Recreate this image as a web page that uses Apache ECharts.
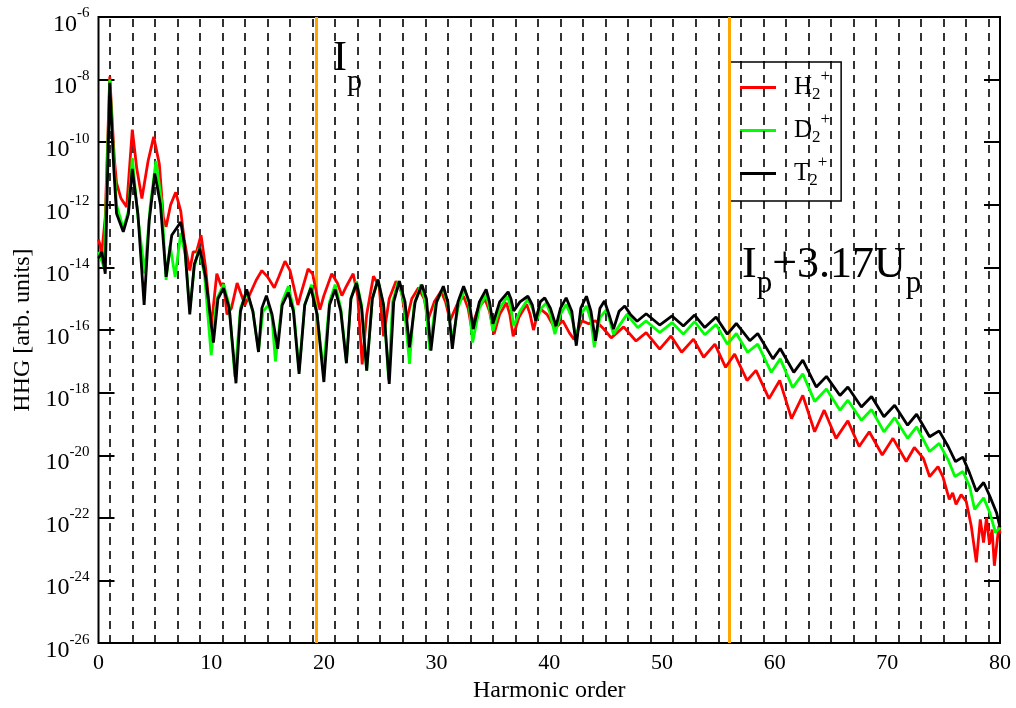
<!DOCTYPE html>
<html>
<head>
<meta charset="utf-8">
<script src="https://cdn.jsdelivr.net/npm/echarts@6/dist/echarts.min.js"></script>
<style>
html,body{margin:0;padding:0;background:#fff;}
#chart{width:1016px;height:708px;}
</style>
</head>
<body>
<div id="chart"></div>
<script>
// Harmonic spectra: [harmonic order, log10(HHG intensity)]
const H2 = [[0,-13.1],[0.3,-13.5],[0.6,-12.4],[1.0,-7.9],[1.4,-10.5],[1.6,-11.3],[2.0,-11.8],[2.5,-12.07],[3.0,-9.6],[3.4,-10.85],[3.85,-11.8],[4.4,-10.6],[4.9,-9.83],[5.4,-10.7],[5.75,-12.4],[6.0,-12.7],[6.4,-12.0],[6.85,-11.6],[7.3,-12.2],[7.6,-13.1],[8.1,-14.1],[8.4,-13.5],[8.7,-13.5],[9.1,-12.97],[9.5,-14.0],[10.0,-15.9],[10.5,-14.2],[10.9,-14.6],[11.1,-14.5],[11.4,-15.5],[11.8,-15.3],[12.3,-14.5],[12.7,-14.9],[13.0,-15.2],[13.5,-14.8],[14.0,-14.4],[14.5,-14.1],[15.0,-14.3],[15.6,-14.65],[16.0,-14.3],[16.55,-13.8],[17.0,-14.1],[17.7,-15.2],[18.0,-14.8],[18.6,-14.05],[19.0,-14.2],[19.65,-15.35],[20.0,-14.9],[20.7,-14.2],[21.2,-14.5],[21.6,-14.9],[22.0,-14.6],[22.6,-14.2],[23.0,-14.9],[23.4,-17.1],[23.8,-15.5],[24.4,-14.28],[24.9,-14.6],[25.3,-16.2],[25.8,-15.0],[26.4,-14.44],[26.9,-14.8],[27.3,-15.76],[27.8,-15.0],[28.4,-14.65],[28.9,-15.0],[29.25,-15.66],[29.8,-15.1],[30.4,-14.76],[30.8,-15.1],[31.2,-15.7],[31.8,-15.2],[32.4,-14.92],[32.8,-15.3],[33.1,-15.92],[33.7,-15.3],[34.3,-15.02],[34.7,-15.4],[35.1,-16.13],[35.6,-15.5],[36.2,-15.13],[36.5,-15.5],[36.8,-16.2],[37.3,-15.6],[38.0,-15.18],[38.3,-15.5],[38.6,-16.0],[39.1,-15.29],[39.8,-15.5],[40.5,-15.95],[41.2,-15.7],[41.8,-16.1],[42.2,-16.3],[42.9,-15.7],[43.5,-15.8],[44.1,-15.7],[44.8,-15.95],[45.5,-16.25],[46.6,-15.9],[47.7,-16.35],[48.6,-16.08],[49.8,-16.61],[50.8,-16.19],[51.75,-16.71],[52.8,-16.29],[53.7,-16.87],[54.7,-16.45],[55.65,-17.19],[56.45,-16.77],[57.55,-17.61],[58.35,-17.29],[59.5,-18.19],[60.45,-17.61],[61.5,-18.83],[62.5,-18.09],[63.55,-19.25],[64.4,-18.56],[65.45,-19.46],[66.5,-18.9],[67.5,-19.72],[68.4,-19.25],[69.55,-19.99],[70.5,-19.46],[71.68,-20.2],[72.4,-19.75],[73.2,-20.1],[73.75,-20.68],[74.5,-20.36],[74.93,-20.68],[75.5,-21.41],[75.8,-21.2],[76.1,-21.57],[76.55,-21.26],[77.0,-21.47],[77.45,-22.26],[77.9,-23.42],[78.25,-22.05],[78.54,-22.79],[78.8,-22.0],[79.07,-22.84],[79.3,-22.37],[79.5,-23.53],[79.9,-22.26],[80.0,-22.5]];

const D2 = [[0,-13.5],[0.5,-14.0],[1.0,-8.0],[1.35,-10.5],[1.6,-12.0],[2.2,-12.76],[2.65,-12.2],[3.0,-10.5],[3.5,-12.4],[4.1,-14.2],[4.6,-12.0],[5.1,-10.6],[5.6,-11.9],[6.0,-14.4],[6.35,-13.3],[6.8,-14.3],[7.3,-12.9],[7.7,-13.6],[8.1,-15.35],[8.5,-14.0],[8.9,-13.4],[9.4,-14.2],[10.0,-16.8],[10.5,-15.0],[11.1,-14.55],[11.6,-15.2],[12.1,-17.5],[12.6,-15.3],[13.15,-14.8],[13.7,-15.4],[14.2,-16.65],[14.6,-15.4],[15.1,-15.2],[15.4,-15.6],[15.7,-17.0],[16.3,-15.1],[16.85,-14.6],[17.3,-15.3],[17.8,-17.3],[18.3,-15.2],[18.9,-14.55],[19.4,-15.5],[19.95,-17.3],[20.5,-15.1],[21.0,-14.55],[21.5,-15.3],[22.0,-17.0],[22.4,-15.0],[22.9,-14.44],[23.35,-15.2],[23.8,-17.3],[24.3,-15.0],[24.8,-14.39],[25.3,-15.2],[25.75,-17.6],[26.1,-15.1],[26.6,-14.44],[27.1,-15.1],[27.6,-17.08],[28.0,-15.2],[28.6,-14.55],[29.0,-15.1],[29.4,-16.64],[29.9,-15.2],[30.6,-14.65],[31.0,-15.2],[31.4,-16.34],[31.9,-15.3],[32.5,-14.7],[32.9,-15.2],[33.2,-16.4],[33.8,-15.3],[34.4,-14.86],[34.7,-15.3],[35.0,-16.03],[35.6,-15.3],[36.3,-14.92],[36.6,-15.3],[36.85,-15.87],[37.4,-15.4],[38.1,-15.02],[38.5,-15.3],[38.85,-15.71],[39.3,-15.3],[39.75,-15.13],[40.1,-15.5],[40.5,-16.13],[41.0,-15.5],[41.5,-15.18],[42.0,-15.6],[42.4,-16.24],[42.8,-15.5],[43.3,-15.23],[43.7,-15.7],[44.0,-16.55],[44.5,-15.6],[45.1,-15.34],[45.7,-16.13],[46.9,-15.5],[47.85,-15.92],[48.6,-15.71],[49.8,-16.08],[50.9,-15.76],[51.9,-16.13],[52.9,-15.73],[53.8,-16.15],[54.8,-15.82],[55.8,-16.45],[56.6,-16.11],[57.6,-16.71],[58.5,-16.45],[59.7,-17.35],[60.5,-16.92],[61.6,-17.84],[62.5,-17.4],[63.55,-18.28],[64.6,-17.88],[65.8,-18.56],[66.5,-18.24],[67.7,-18.88],[68.6,-18.54],[69.7,-19.25],[70.65,-18.8],[71.8,-19.46],[72.6,-19.09],[73.75,-19.88],[74.6,-19.62],[75.4,-20.15],[76.0,-20.68],[76.7,-20.52],[77.3,-20.99],[77.75,-21.73],[78.55,-21.36],[79.1,-21.84],[79.6,-22.47],[80.0,-22.3]];

const T2 = [[0,-13.7],[0.3,-13.5],[0.6,-14.2],[1.0,-8.1],[1.35,-10.8],[1.6,-12.28],[2.2,-12.86],[2.65,-12.3],[3.0,-10.85],[3.5,-12.3],[4.05,-15.2],[4.5,-12.5],[5.0,-11.0],[5.5,-12.0],[6.0,-14.3],[6.5,-12.97],[7.3,-12.55],[7.65,-13.3],[8.1,-15.5],[8.5,-13.9],[9.0,-13.4],[9.5,-14.3],[10.2,-16.4],[10.6,-15.0],[11.1,-14.66],[11.6,-15.3],[12.2,-17.7],[12.6,-15.4],[13.15,-14.7],[13.7,-15.4],[14.2,-16.7],[14.5,-15.3],[14.9,-14.9],[15.4,-15.5],[15.9,-16.6],[16.3,-15.2],[16.85,-14.8],[17.3,-15.4],[17.8,-17.4],[18.3,-15.2],[18.85,-14.66],[19.4,-15.5],[20.0,-17.66],[20.5,-15.2],[21.0,-14.7],[21.5,-15.4],[22.0,-17.06],[22.4,-15.0],[22.9,-14.5],[23.35,-15.3],[23.8,-17.3],[24.3,-15.0],[24.8,-14.39],[25.3,-15.2],[25.8,-17.72],[26.2,-15.1],[26.7,-14.44],[27.2,-15.1],[27.6,-16.55],[28.1,-15.1],[28.7,-14.55],[29.1,-15.0],[29.5,-16.66],[30.0,-15.1],[30.6,-14.6],[31.0,-15.1],[31.4,-16.6],[31.9,-15.1],[32.4,-14.6],[32.9,-15.1],[33.25,-15.97],[33.8,-15.1],[34.4,-14.7],[34.7,-15.1],[35.0,-15.8],[35.6,-15.1],[36.35,-14.78],[36.6,-15.0],[36.85,-15.39],[37.4,-15.1],[38.1,-14.92],[38.5,-15.2],[38.8,-15.71],[39.2,-15.1],[39.6,-14.97],[40.1,-15.3],[40.6,-15.87],[41.0,-15.3],[41.5,-14.97],[42.0,-15.4],[42.4,-16.5],[42.8,-15.3],[43.3,-14.92],[43.7,-15.4],[44.1,-16.34],[44.5,-15.3],[44.9,-15.07],[45.3,-15.5],[45.7,-15.97],[46.2,-15.4],[46.7,-15.23],[47.2,-15.5],[47.8,-15.72],[48.6,-15.48],[49.8,-15.84],[50.9,-15.55],[51.9,-15.87],[52.9,-15.52],[53.8,-15.92],[54.8,-15.58],[55.8,-16.13],[56.6,-15.79],[57.8,-16.34],[58.5,-16.11],[59.85,-16.92],[60.5,-16.59],[61.7,-17.35],[62.5,-16.96],[63.7,-17.82],[64.6,-17.48],[65.8,-18.09],[66.5,-17.82],[67.7,-18.46],[68.6,-18.12],[69.7,-18.77],[70.65,-18.4],[71.8,-19.04],[72.6,-18.69],[73.75,-19.41],[74.6,-19.22],[75.4,-19.72],[76.05,-20.2],[76.7,-20.06],[77.3,-20.57],[77.9,-21.15],[78.55,-20.87],[79.1,-21.31],[79.7,-21.84],[80.0,-22.3]];

// Odd harmonic positions (dashed guides)
const oddHarmonics = [1,3,5,7,9,11,13,15,17,19,21,23,25,27,29,31,33,35,37,39,41,43,45,47,49,51,53,55,57,59,61,63,65,67,69,71,73,75,77,79];
// Ionization potential and cutoff (harmonic order)
const ipHarmonic = 19.3;
const cutoffHarmonic = 56.0;
// Axis ranges (log10 for y)
const xRange = [0, 80];
const yRange = [-26, -6];

const FONT = '"Liberation Serif", "DejaVu Serif", serif';
const names = {H2: 'H2+', D2: 'D2+', T2: 'T2+'};
const legendRich = {
  m: {fontSize: 25, fontFamily: FONT, color: '#000', padding: [0,0,0,13], lineHeight: 30},
  sub: {fontSize: 17, fontFamily: FONT, color: '#000', padding: [14,0,0,0], lineHeight: 30},
  sup: {fontSize: 17, fontFamily: FONT, color: '#000', padding: [0,0,22,0], lineHeight: 30}
};

const chart = echarts.init(document.getElementById('chart'), null, {renderer: 'canvas'});

function lineSeries(name, data, color) {
  return {
    name: name, type: 'line', data: data, showSymbol: false, symbol: 'none',
    lineStyle: {color: color, width: 2.8}, itemStyle: {color: color},
    animation: false, z: 5
  };
}

const option = {
  animation: false,
  backgroundColor: '#fff',
  grid: {left: 98.5, right: 16, top: 17, bottom: 60, show: true, borderColor: '#000', borderWidth: 2, backgroundColor: 'transparent'},
  xAxis: {
    type: 'value', min: xRange[0], max: xRange[1], interval: 10,
    name: 'Harmonic order', nameLocation: 'middle', nameGap: 33,
    nameTextStyle: {fontFamily: FONT, fontSize: 24, color: '#000'},
    axisLine: {show: false}, axisTick: {show: false}, splitLine: {show: false},
    axisLabel: {fontFamily: FONT, fontSize: 22, color: '#000', margin: 9}
  },
  yAxis: [{
    type: 'value', min: yRange[0], max: yRange[1], interval: 2,
    name: 'HHG [arb. units]', nameLocation: 'middle', nameGap: 64, nameRotate: 90,
    nameTextStyle: {fontFamily: FONT, fontSize: 24, color: '#000'},
    axisLine: {show: false},
    axisTick: {show: true, inside: true, length: 16, lineStyle: {color: '#000', width: 2}},
    splitLine: {show: false},
    axisLabel: {
      margin: 9,
      formatter: v => '{b|10}{s|' + v + '}',
      rich: {
        b: {fontFamily: FONT, fontSize: 24, color: '#000', padding: [15,0,0,0]},
        s: {fontFamily: FONT, fontSize: 15, color: '#000', padding: [0,0,7,0]}
      }
    }
  }, {
    type: 'value', position: 'right', min: yRange[0], max: yRange[1], interval: 2,
    axisLine: {show: false},
    axisTick: {show: true, inside: true, length: 16, lineStyle: {color: '#000', width: 2}},
    axisLabel: {show: false}, splitLine: {show: false}
  }],
  legend: {
    orient: 'vertical', left: 729, top: 62,
    padding: [6, 11, 8, 11], itemGap: 4,
    itemWidth: 36, itemHeight: 3, icon: 'rect',
    borderColor: '#000', borderWidth: 1.5, backgroundColor: '#fff',
    data: [names.H2, names.D2, names.T2],
    formatter: n => '{m|' + n.charAt(0) + '}{sub|2}{sup|+}',
    textStyle: {rich: legendRich}
  },
  series: [
    {
      name: 'guides', type: 'line', data: [], silent: true, z: 1,
      markLine: {
        silent: true, symbol: ['none', 'none'], label: {show: false}, animation: false,
        lineStyle: {color: '#000', type: [8, 6], width: 1.6},
        data: oddHarmonics.map(h => ({xAxis: h}))
      }
    },
    {
      name: 'marks', type: 'line', data: [], silent: true, z: 2,
      markLine: {
        silent: true, symbol: ['none', 'none'], label: {show: false}, animation: false,
        lineStyle: {color: '#FFA500', type: 'solid', width: 3},
        data: [{xAxis: ipHarmonic}, {xAxis: cutoffHarmonic}]
      }
    },
    lineSeries(names.H2, H2, '#ff0000'),
    lineSeries(names.D2, D2, '#00ff00'),
    lineSeries(names.T2, T2, '#000000')
  ],
  graphic: [
    {
      type: 'text', left: 333, top: 38, z: 20,
      style: {
        text: '{a|I}{p|p}',
        rich: {
          a: {fontFamily: FONT, fontSize: 42, fill: '#000'},
          p: {fontFamily: FONT, fontSize: 30, fill: '#000', padding: [46,0,0,0]}
        }
      }
    },
    {
      type: 'text', left: 742, top: 243, z: 20,
      style: {
        text: '{a|I}{p|p}{a|+3.17U}{p|p}',
        rich: {
          a: {fontFamily: FONT, fontSize: 44, fill: '#000'},
          p: {fontFamily: FONT, fontSize: 31, fill: '#000', padding: [38,0,0,0]}
        }
      }
    }
  ]
};
chart.setOption(option);
</script>
</body>
</html>
